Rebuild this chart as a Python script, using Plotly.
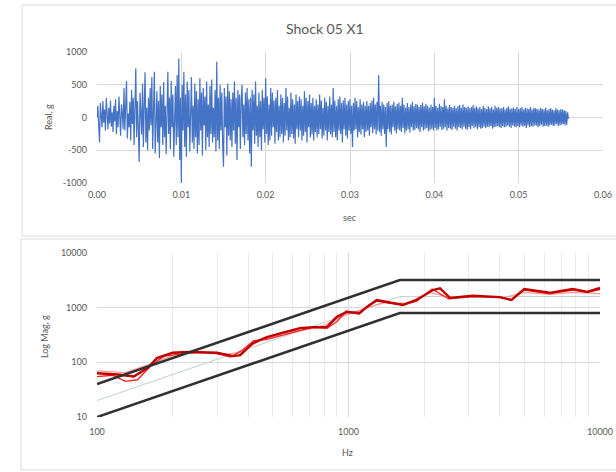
import plotly.graph_objects as go

# ---------------- data: time history (g) sampled every 0.0001 s ----------------
sample_dt = 0.0001
accel_g = [
    0, 180, -120, -380, 220, 60, -150, 250, -80, 120, -200, 300, 40, -180, 150, -90, 260, -140, 80, -220,
    180, -60, 280, -250, 100, -150, 320, -30, -280, 200, 80, -180, 450, -200, 120, 560, -320, 60, -150, 240,
    -350, 420, -100, 300, -420, 180, 750, -300, 250, -150, -680, 380, 100, -260, 520, -450, 200, 690, -380, 150,
    -500, 300, -200, 450, -120, 620, -480, 200, 700, -550, 80, 400, -380, 250, -620, 480, -150, 350, -420, 540,
    -300, 180, -560, 420, 700, -250, 300, -480, 560, -150, 350, -600, 200, 480, -420, 650, -300, 900, -650, 300,
    -1000, 500, -200, 700, -450, 350, -600, 550, -150, 420, -520, 300, 620, -380, 180, -480, 520, -300, 400, -550,
    280, -420, 600, -200, 380, -580, 450, -120, 320, -500, 550, -300, 200, -450, 480, -250, 580, -380, 150, -300,
    420, -520, 850, -350, 300, -480, 500, -200, 380, -420, -750, 450, -150, 320, -580, 520, -280, 400, -350, 280,
    -450, 380, -200, 550, -400, 300, -650, 420, -150, 350, -480, 280, 500, -300, 200, -420, 380, -250, 450, -350,
    280, -550, 300, -750, 420, -200, 350, -400, 550, -280, 180, -450, 380, -300, 250, -500, 420, -180, 300, -380,
    600, -250, 320, -420, 200, -350, 450, -280, 380, -150, 260, -400, 300, -220, 420, -350, 180, -300, 350, -250,
    300, -380, 220, -280, 450, -200, 320, -350, 150, -300, 380, -250, 280, -320, 200, -400, 350, -180, 250, -300,
    320, -200, 280, -350, 180, -280, 400, -220, 300, -380, 250, -150, 350, -300, 220, -260, 300, -350, 180, -220,
    280, -300, 200, -250, 350, -180, 260, -320, 150, -280, 300, -200, 240, -350, 180, -220, 320, -260, 200, -300,
    450, -220, 260, -300, 180, -350, 280, -200, 320, -250, 220, -380, 260, -180, 300, -280, 200, -320, 250, -200,
    280, -250, 180, -450, 220, -200, 300, -180, 250, -300, 160, -220, 280, -260, 200, -180, 240, -300, 180, -220,
    250, -200, 180, -280, 220, -150, 260, -240, 300, -180, 200, -260, 240, -200, 650, -220, 180, -280, 240, -180,
    200, -250, 160, -450, 220, -180, 250, -220, 180, -260, 200, -150, 240, -200, 170, -240, 210, -180, 230, -200,
    180, -220, 300, -160, 200, -240, 150, -200, 220, -180, 160, -230, 200, -150, 240, -200, 170, -190, 210, -160,
    200, -180, 160, -220, 190, -150, 230, -200, 170, -180, 210, -160, 180, -210, 150, -190, 200, -170, 160, -200,
    300, -160, 180, -200, 150, -180, 210, -140, 170, -190, 160, -170, 280, -150, 180, -200, 140, -160, 190, -170,
    160, -190, 150, -140, 180, -170, 140, -200, 170, -150, 190, -160, 150, -180, 200, -140, 160, -170, 150, -190,
    170, -150, 140, -180, 160, -130, 190, -160, 150, -140, 170, -180, 140, -150, 160, -170, 130, -160, 180, -140,
    150, -160, 130, -140, 170, -150, 140, -130, 160, -170, 120, -150, 180, -140, 150, -130, 160, -150, 140, -160,
    140, -130, 160, -150, 120, -140, 150, -120, 170, -140, 130, -160, 140, -120, 150, -140, 130, -150, 160, -130,
    130, -150, 140, -120, 160, -140, 120, -130, 150, -160, 140, -120, 130, -150, 160, -130, 120, -140, 150, -120,
    140, -120, 130, -150, 120, -130, 150, -110, 130, -140, 120, -130, 150, -120, 110, -140, 130, -120, 140, -110,
    120, -130, 110, -120, 140, -100, 120, -130, 110, -120, 130, -110, 120, -100, 110, -120, 100, -110, 80, -20,
]
time_s = [i * sample_dt for i in range(len(accel_g))]

# ---------------- data: spectrum (log-log) ----------------
spec_freq = [100, 1600, 10000]
nominal_g = [20, 1600, 1600]
upper_g = [40, 3200, 3200]
lower_g = [10, 800, 800]

resp1_freq = [100, 121, 140, 160, 173, 200, 230, 257, 300, 347, 371, 417, 474, 549, 641, 722, 820, 899, 982,
              1108, 1180, 1295, 1460, 1646, 1863, 2167, 2311, 2536, 3120, 3990, 4450, 5000, 6300, 7800, 8900, 10000]
resp1_g = [63, 60, 55, 80, 120, 150, 155, 153, 150, 130, 135, 225, 290, 350, 420, 440, 440, 680, 830,
           800, 1020, 1380, 1260, 1120, 1380, 2100, 2250, 1500, 1650, 1560, 1380, 2200, 1870, 2200, 1950, 2300]

resp2_freq = [100, 115, 130, 145, 165, 185, 210, 257, 300, 340, 380, 420, 470, 550, 640, 720, 820, 900, 980,
              1100, 1200, 1300, 1460, 1650, 1860, 2150, 2500, 3100, 4000, 4450, 5000, 6300, 7800, 8900, 10000]
resp2_g = [55, 58, 45, 48, 90, 130, 140, 155, 145, 125, 170, 250, 260, 320, 380, 430, 420, 560, 870,
           760, 1100, 1320, 1200, 1150, 1300, 2200, 1450, 1600, 1580, 1400, 2100, 1800, 2100, 1900, 2150]

resp3_freq = [100, 130, 170, 210, 260, 320, 370, 450, 550, 650, 800, 950, 1150, 1400, 1700, 2100, 2500,
              3100, 4100, 5000, 6300, 7800, 10000]
resp3_g = [70, 65, 100, 145, 150, 140, 150, 260, 330, 380, 470, 700, 950, 1250, 1200, 1900, 1550,
           1650, 1500, 1900, 1750, 1900, 1800]

top_yticks = [-1000, -500, 0, 500, 1000]
top_xticks = [0.00, 0.01, 0.02, 0.03, 0.04, 0.05, 0.06]
bot_xticks = [100, 1000, 10000]
bot_yticks = [10, 100, 1000, 10000]

# ---------------- figure ----------------
W, H = 616, 472
FONT = "Lato, 'Open Sans', sans-serif"
TXT = "#595959"
GRID = "#d9d9d9"

def px(x):
    return x / W

def py(y):
    return 1 - y / H

fig = go.Figure()

fig.add_trace(go.Scatter(x=time_s, y=accel_g, mode="lines",
                         line=dict(color="#4472c4", width=1.2),
                         xaxis="x", yaxis="y", showlegend=False, hoverinfo="skip"))

fig.add_trace(go.Scatter(x=spec_freq, y=nominal_g, mode="lines",
                         line=dict(color="#c8d2d2", width=1.2),
                         xaxis="x2", yaxis="y2", showlegend=False))
fig.add_trace(go.Scatter(x=resp3_freq, y=resp3_g, mode="lines",
                         line=dict(color="#ff9a9a", width=1.2),
                         xaxis="x2", yaxis="y2", showlegend=False))
fig.add_trace(go.Scatter(x=resp2_freq, y=resp2_g, mode="lines",
                         line=dict(color="#ff2020", width=1.3),
                         xaxis="x2", yaxis="y2", showlegend=False))
fig.add_trace(go.Scatter(x=resp1_freq, y=resp1_g, mode="lines",
                         line=dict(color="#c00000", width=2.4),
                         xaxis="x2", yaxis="y2", showlegend=False))
fig.add_trace(go.Scatter(x=spec_freq, y=upper_g, mode="lines",
                         line=dict(color="#303030", width=2.6),
                         xaxis="x2", yaxis="y2", showlegend=False))
fig.add_trace(go.Scatter(x=spec_freq, y=lower_g, mode="lines",
                         line=dict(color="#303030", width=2.6),
                         xaxis="x2", yaxis="y2", showlegend=False))

tickfont = dict(family=FONT, size=9, color=TXT)

minor_x = [f * m for f in (100, 1000) for m in range(2, 10)]

def label(text, x, y, size=9, angle=0):
    return dict(text=text, x=px(x), y=py(y), xref="paper", yref="paper", showarrow=False,
                xanchor="center", yanchor="middle", textangle=angle,
                font=dict(family=FONT, size=size, color=TXT))

fig.update_layout(
    width=W, height=H,
    margin=dict(l=0, r=0, t=0, b=0, autoexpand=False),
    paper_bgcolor="white", plot_bgcolor="white",
    font=dict(family=FONT, color=TXT),
    xaxis=dict(domain=[px(97), px(603)], anchor="y", range=[0, 0.06], automargin=False,
               tickvals=top_xticks, ticktext=[f"{v:.2f}" for v in top_xticks],
               showgrid=True, gridcolor=GRID, gridwidth=1, zeroline=False,
               showline=False, ticks="", tickfont=tickfont, ticklabelstandoff=5),
    yaxis=dict(domain=[py(183), py(52)], anchor="x", range=[-1000, 1000], automargin=False,
               tickvals=top_yticks, ticktext=[str(v) for v in top_yticks],
               showgrid=True, gridcolor=GRID, gridwidth=1, zeroline=False,
               showline=False, ticks="", tickfont=tickfont, ticklabelstandoff=9),
    xaxis2=dict(domain=[px(97), px(600)], anchor="y2", type="log", range=[2, 4], automargin=False,
                tickvals=bot_xticks, ticktext=[str(v) for v in bot_xticks],
                showgrid=True, gridcolor=GRID, gridwidth=1, zeroline=False,
                minor=dict(tickvals=minor_x, showgrid=True, gridcolor="#ececec", gridwidth=1, ticks=""),
                showline=False, ticks="", tickfont=tickfont, ticklabelstandoff=8),
    yaxis2=dict(domain=[py(417), py(253)], anchor="x2", type="log", range=[1, 4], automargin=False,
                tickvals=bot_yticks, ticktext=[str(v) for v in bot_yticks],
                showgrid=True, gridcolor=GRID, gridwidth=1, zeroline=False,
                showline=False, ticks="", tickfont=tickfont, ticklabelstandoff=9),
    shapes=[
        dict(type="rect", xref="paper", yref="paper", x0=px(22), x1=px(640), y0=py(236), y1=py(5),
             line=dict(color=GRID, width=1), fillcolor="rgba(0,0,0,0)", layer="below"),
        dict(type="rect", xref="paper", yref="paper", x0=px(21), x1=px(640), y0=py(470), y1=py(239),
             line=dict(color=GRID, width=1), fillcolor="rgba(0,0,0,0)", layer="below"),
    ],
    annotations=[
        label("Shock 05 X1", 325, 29, size=14),
        label("sec", 350, 217),
        label("Real, g", 48, 117, angle=-90),
        label("Hz", 347, 452),
        label("Log Mag, g", 44, 337, angle=-90),
    ],
)

fig.write_html("out.html", config={"displayModeBar": False},
               post_script="document.body.style.margin='0';document.body.style.overflow='hidden';")
